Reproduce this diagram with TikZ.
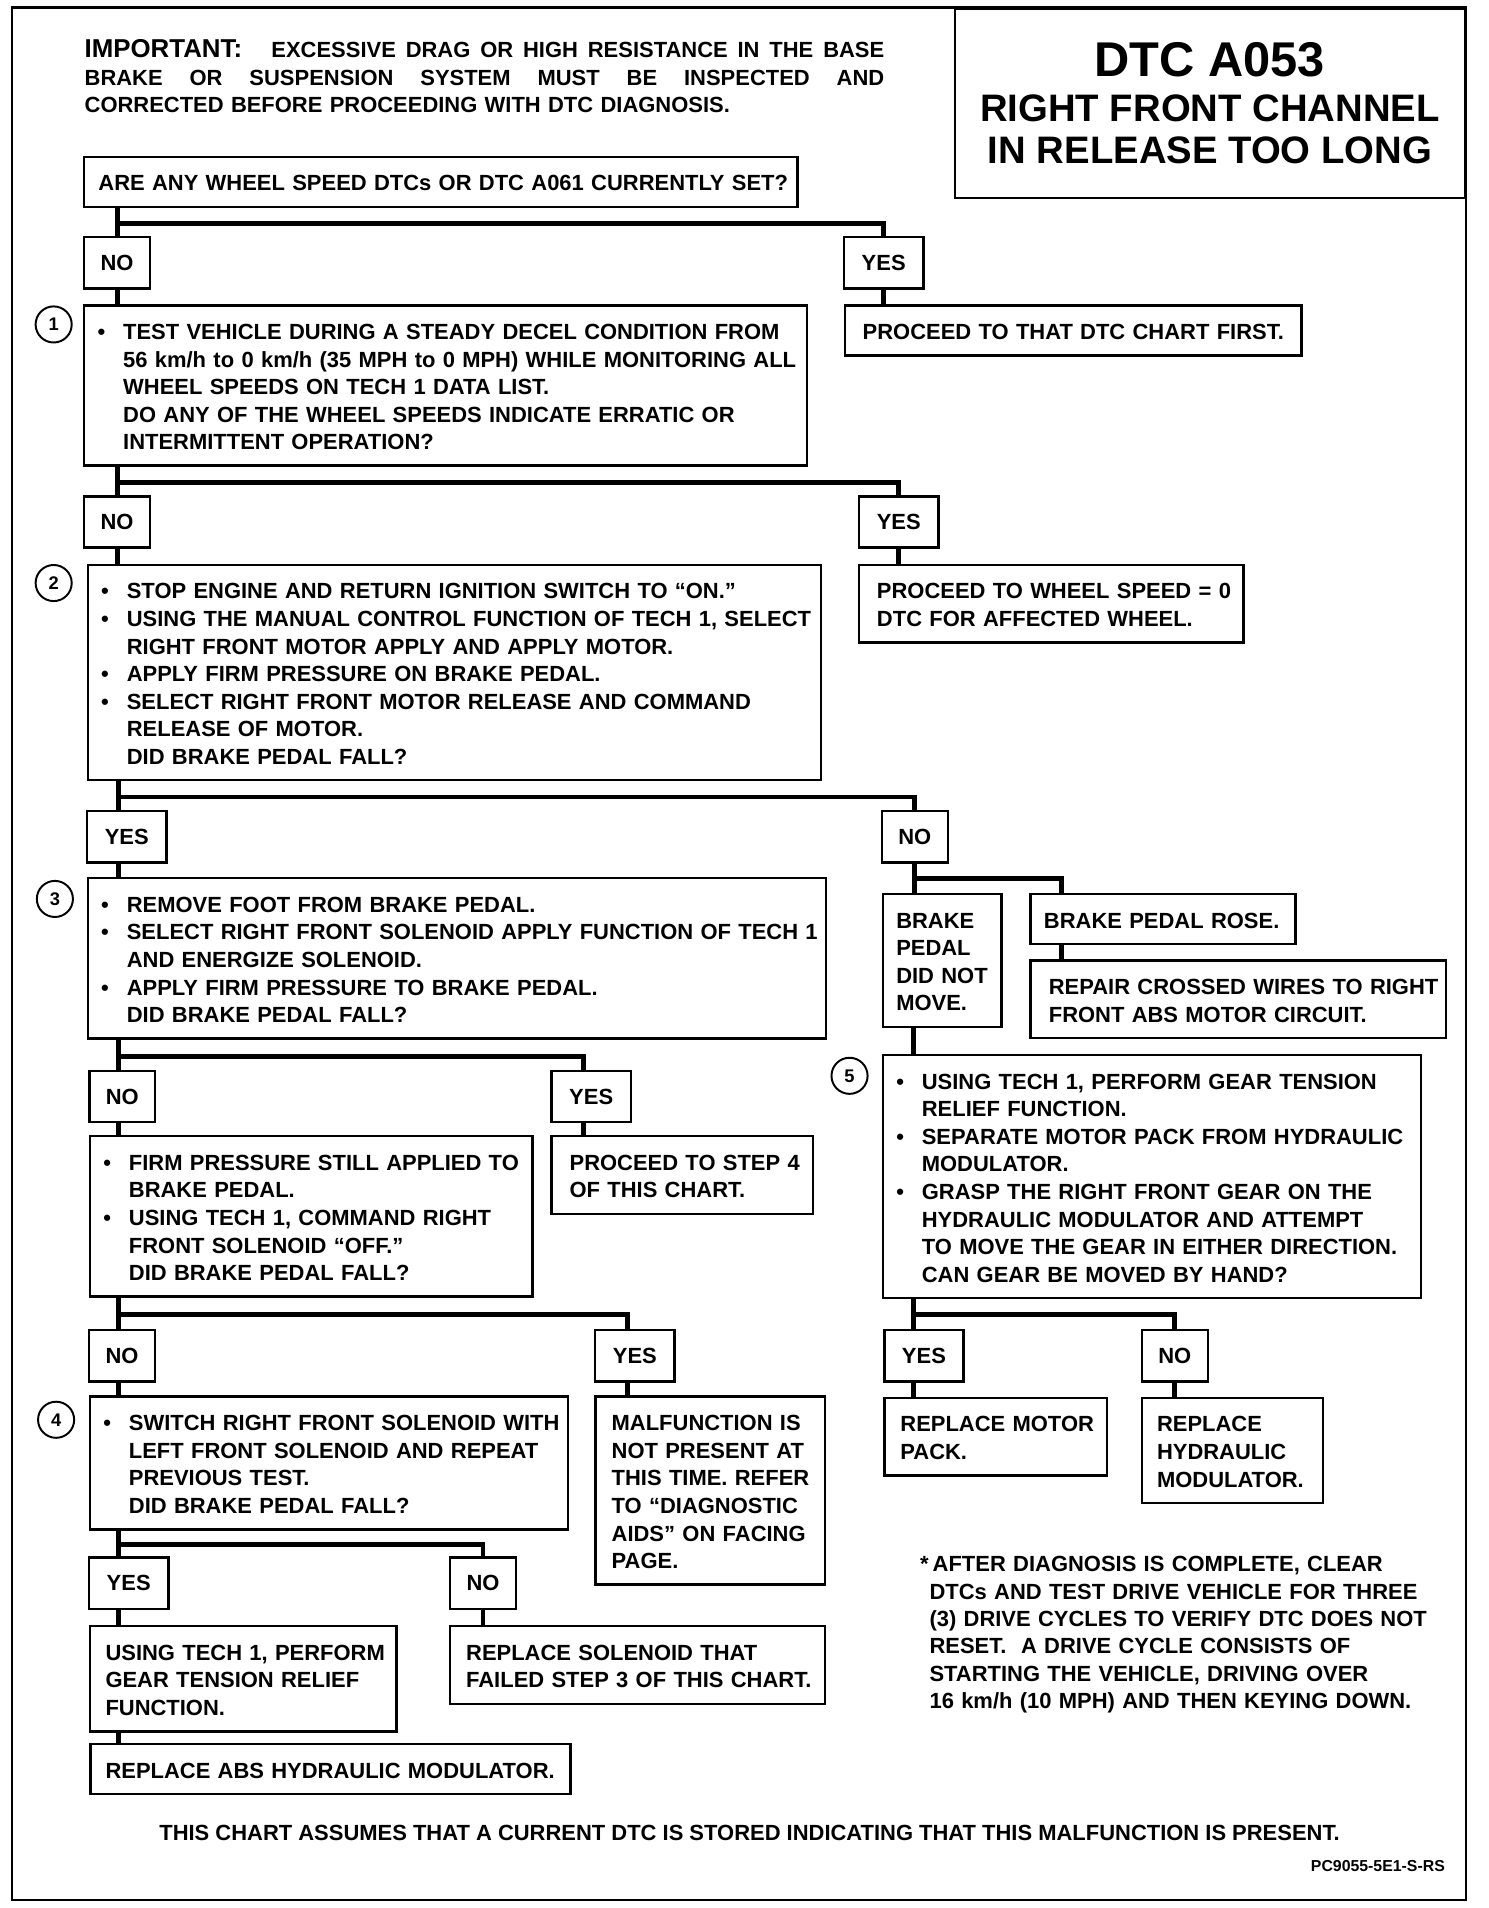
\documentclass[tikz,border=0pt]{standalone}
\usepackage{fontspec}
\setmainfont{Liberation Sans}
\usetikzlibrary{calc}
\newcommand\bul{\makebox[10.5pt][l]{\textbullet}}
\newcommand\ind{\hspace*{10.5pt}}
\def\boxpad{6.5pt}
\begin{document}
\begin{tikzpicture}
   [x=0.5pt,y=-0.5pt,
    frame/.style={line width=1pt},
    link/.style={line width=2pt},
    box/.style={draw,line width=1pt,anchor=north west,inner sep=0pt,
      text width=#1,font=\bfseries\fontsize{9}{11.3}\selectfont,
      execute at begin node={\leftskip=\boxpad\relax\rule{0pt}{14pt}},
      execute at end node={\rule[-6.5pt]{0pt}{6.5pt}}},
    pad/.code={\def\boxpad{#1}},
    answer/.style={draw,line width=1pt,anchor=north west,inner sep=0pt,
      minimum height=21pt,font=\bfseries\fontsize{9}{11.3}\selectfont},
    yesbox/.style={answer,minimum width=32.5pt},
    nobox/.style={answer,minimum width=27pt},
    num/.style={circle,draw,line width=0.8pt,minimum size=14.8pt,inner sep=0pt,
      font=\bfseries\fontsize{7.5}{8}\selectfont},
    note/.style={inner sep=0pt,font=\bfseries\fontsize{9}{11.2}\selectfont}]
\useasboundingbox (0,0) rectangle (1220,1564.3);
\draw[frame] (10,6) rectangle (1202,1557.5);
\coordinate (trunkL) at (97.5,0);
\coordinate (trunkR) at (749,0);
\coordinate (colRose) at (870,0);
\coordinate (colY4) at (478.4,0);
\coordinate (colY5) at (514.6,0);

\node[note,anchor=base west,text width=330pt] (warn) at (69,47.5) {%
\leavevmode\hbox to 327.8pt{{\fontsize{10.6}{11.2}\selectfont IMPORTANT:}\hspace{12pt}EXCESSIVE \hfill DRAG \hfill OR \hfill HIGH \hfill RESISTANCE \hfill IN \hfill THE \hfill BASE}\\
\leavevmode\hbox to 327.8pt{BRAKE \hfill OR \hfill SUSPENSION \hfill SYSTEM \hfill MUST \hfill BE \hfill INSPECTED \hfill AND}\\
CORRECTED BEFORE PROCEEDING WITH DTC DIAGNOSIS.};
\node[draw,line width=1pt,anchor=north east,minimum width=209pt,minimum height=77.6pt,
  align=center,inner sep=0pt,font=\bfseries\fontsize{15.7}{17.25}\selectfont] (title) at (1202,6) {%
{\fontsize{20}{20}\selectfont DTC A053}\\[1pt]
RIGHT FRONT CHANNEL\\
IN RELEASE TOO LONG};

\node[box=292.4pt,pad=5.85pt] (q0) at (68,127.5) {ARE ANY WHEEL SPEED DTCs OR DTC A061 CURRENTLY SET?};
\node[nobox] (no1) at (68,193.5) {NO};
\node[yesbox] (yes1) at (691,193.5) {YES};
\node[box=296.3pt,pad=5.5pt] (s1) at (68,249.3) {%
\bul TEST VEHICLE DURING A STEADY DECEL CONDITION FROM\\
\ind 56 km/h to 0 km/h (35 MPH to 0 MPH) WHILE MONITORING ALL\\
\ind WHEEL SPEEDS ON TECH 1 DATA LIST.\\
\ind DO ANY OF THE WHEEL SPEEDS INDICATE ERRATIC OR\\
\ind INTERMITTENT OPERATION?};
\node[box=187.2pt,pad=7.3pt] (p1) at (691.7,249.3) {PROCEED TO THAT DTC CHART FIRST.};
\node[num] (n1) at (44,266) {1};

\node[nobox] (no2) at (68,406) {NO};
\node[yesbox] (yes2) at (703.4,406) {YES};
\node[box=300.6pt,pad=5.5pt] (s2) at (71,462) {%
\bul STOP ENGINE AND RETURN IGNITION SWITCH TO “ON.”\\
\bul USING THE MANUAL CONTROL FUNCTION OF TECH 1, SELECT\\
\ind RIGHT FRONT MOTOR APPLY AND APPLY MOTOR.\\
\bul APPLY FIRM PRESSURE ON BRAKE PEDAL.\\
\bul SELECT RIGHT FRONT MOTOR RELEASE AND COMMAND\\
\ind RELEASE OF MOTOR.\\
\ind DID BRAKE PEDAL FALL?};
\node[box=157.5pt,pad=7.3pt] (p2) at (703.4,462) {PROCEED TO WHEEL SPEED = 0\\
DTC FOR AFFECTED WHEEL.};
\node[num] (n2) at (44,478) {2};

\node[yesbox] (yes3) at (70.4,664) {YES};
\node[nobox] (no3) at (722,664) {NO};
\node[box=302.6pt,pad=5.5pt] (s3) at (71,719) {%
\bul REMOVE FOOT FROM BRAKE PEDAL.\\
\bul SELECT RIGHT FRONT SOLENOID APPLY FUNCTION OF TECH 1\\
\ind AND ENERGIZE SOLENOID.\\
\bul APPLY FIRM PRESSURE TO BRAKE PEDAL.\\
\ind DID BRAKE PEDAL FALL?};
\node[num] (n3) at (45,737) {3};
\node[box=48.6pt,pad=5.5pt] (still) at (722.8,732) {BRAKE\\
PEDAL\\
DID NOT\\
MOVE.};
\node[box=108.8pt,pad=5.6pt] (rose) at (843.7,732) {BRAKE PEDAL ROSE.};
\node[box=170.4pt,pad=7.6pt] (repair) at (843.7,786.5) {REPAIR CROSSED WIRES TO RIGHT\\
FRONT ABS MOTOR CIRCUIT.};
\node[box=220.7pt,pad=5.5pt] (s5) at (722.8,864) {%
\bul USING TECH 1, PERFORM GEAR TENSION\\
\ind RELIEF FUNCTION.\\
\bul SEPARATE MOTOR PACK FROM HYDRAULIC\\
\ind MODULATOR.\\
\bul GRASP THE RIGHT FRONT GEAR ON THE\\
\ind HYDRAULIC MODULATOR AND ATTEMPT\\
\ind TO MOVE THE GEAR IN EITHER DIRECTION.\\
\ind CAN GEAR BE MOVED BY HAND?};
\node[num] (n5) at (696.5,882) {5};

\node[nobox] (no4) at (72.3,877) {NO};
\node[yesbox] (yes4) at (451.2,877) {YES};
\node[box=181.5pt,pad=5.5pt] (firm) at (72.7,930.5) {%
\bul FIRM PRESSURE STILL APPLIED TO\\
\ind BRAKE PEDAL.\\
\bul USING TECH 1, COMMAND RIGHT\\
\ind FRONT SOLENOID “OFF.”\\
\ind DID BRAKE PEDAL FALL?};
\node[box=107.2pt,pad=7.4pt] (p4) at (451.2,930.5) {PROCEED TO STEP 4\\
OF THIS CHART.};

\node[nobox] (no5) at (72,1089.5) {NO};
\node[yesbox] (yes5) at (487,1089.5) {YES};
\node[box=196pt,pad=5.5pt] (s4) at (72.7,1144) {%
\bul SWITCH RIGHT FRONT SOLENOID WITH\\
\ind LEFT FRONT SOLENOID AND REPEAT\\
\ind PREVIOUS TEST.\\
\ind DID BRAKE PEDAL FALL?};
\node[box=94pt,pad=6.6pt] (malf) at (487.3,1144) {MALFUNCTION IS\\
NOT PRESENT AT\\
THIS TIME. REFER\\
TO “DIAGNOSTIC\\
AIDS” ON FACING\\
PAGE.};
\node[num] (n4) at (46,1164) {4};

\node[yesbox] (yes6) at (724,1089.5) {YES};
\node[nobox] (no6) at (935.2,1089.5) {NO};
\node[box=91.4pt,pad=6.6pt] (motor) at (724,1145) {REPLACE MOTOR\\
PACK.};
\node[box=74.2pt,pad=6.2pt] (hydr) at (935.2,1145) {REPLACE\\
HYDRAULIC\\
MODULATOR.};

\node[yesbox] (yes7) at (72,1276) {YES};
\node[nobox] (no7) at (368,1276) {NO};
\node[box=125.6pt,pad=6.4pt] (relief) at (72.7,1332.2) {USING TECH 1, PERFORM\\
GEAR TENSION RELIEF\\
FUNCTION.};
\node[box=153.6pt,pad=6.6pt] (sol) at (368,1332.2) {REPLACE SOLENOID THAT\\
FAILED STEP 3 OF THIS CHART.};
\node[box=196.8pt,pad=6.2pt] (abs) at (73.1,1429) {REPLACE ABS HYDRAULIC MODULATOR.};

\node[note,anchor=base west,text width=212pt] (foot) at (753.9,1288.8) {%
\makebox[5.2pt][l]{*}AFTER DIAGNOSIS IS COMPLETE, CLEAR\\
\hspace*{3.9pt}DTCs AND TEST DRIVE VEHICLE FOR THREE\\
\hspace*{3.9pt}(3) DRIVE CYCLES TO VERIFY DTC DOES NOT\\
\hspace*{3.9pt}RESET.\ \ A DRIVE CYCLE CONSISTS OF\\
\hspace*{3.9pt}STARTING THE VEHICLE, DRIVING OVER\\
\hspace*{3.9pt}16 km/h (10 MPH) AND THEN KEYING DOWN.};
\node[note,anchor=base] (assume) at (614.5,1509) {THIS CHART ASSUMES THAT A CURRENT DTC IS STORED INDICATING THAT THIS MALFUNCTION IS PRESENT.};
\node[note,anchor=base east,font=\bfseries\fontsize{6.5}{7}\selectfont] (code) at (1185,1534) {PC9055-5E1-S-RS};

\draw[link] (q0.south -| no1) -- coordinate[pos=.55] (bar1) (no1.north);
\draw[link] (bar1) -| (yes1.north);
\draw[link] (no1.south) -- (no1.south |- s1.north);
\draw[link] (yes1.south) -- (yes1.south |- p1.north);

\draw[link] (s1.south -| no2) -- coordinate[pos=.55] (bar2) (no2.north);
\draw[link] (bar2) -| (yes2.north);
\draw[link] (no2.south) -- (no2.south |- s2.north);
\draw[link] (yes2.south) -- (yes2.south |- p2.north);

\draw[link] (s2.south -| trunkL) -- coordinate[pos=.55] (bar3) (yes3.north -| trunkL);
\draw[link] (bar3) -| (no3.north);
\draw[link] (yes3.south -| trunkL) -- (s3.north -| trunkL);
\draw[link] (no3.south) -- coordinate[pos=.5] (bar3b) (no3.south |- still.north);
\draw[link] (bar3b) -| (rose.north -| colRose);
\draw[link] (rose.south -| colRose) -- (repair.north -| colRose);
\draw[link] (still.south -| trunkR) -- (s5.north -| trunkR);

\draw[link] (s3.south -| trunkL) -- coordinate[pos=.55] (bar4) (no4.north -| trunkL);
\draw[link] (bar4) -| (yes4.north -| colY4);
\draw[link] (no4.south -| trunkL) -- (firm.north -| trunkL);
\draw[link] (yes4.south -| colY4) -- (p4.north -| colY4);

\draw[link] (firm.south -| trunkL) -- coordinate[pos=.55] (bar5) (no5.north -| trunkL);
\draw[link] (bar5) -| (yes5.north -| colY5);
\draw[link] (no5.south -| trunkL) -- (s4.north -| trunkL);
\draw[link] (yes5.south -| colY5) -- (malf.north -| colY5);

\draw[link] (s5.south -| trunkR) -- coordinate[pos=.5] (bar6) (yes6.north -| trunkR);
\draw[link] (bar6) -| (no6.north);
\draw[link] (yes6.south -| trunkR) -- (motor.north -| trunkR);
\draw[link] (no6.south) -- (no6.south |- hydr.north);

\draw[link] (s4.south -| trunkL) -- coordinate[pos=.55] (bar7) (yes7.north -| trunkL);
\draw[link] (bar7) -| (no7.north);
\draw[link] (yes7.south -| trunkL) -- (relief.north -| trunkL);
\draw[link] (no7.south) -- (no7.south |- sol.north);
\draw[link] (relief.south -| trunkL) -- (abs.north -| trunkL);
\end{tikzpicture}
\end{document}
